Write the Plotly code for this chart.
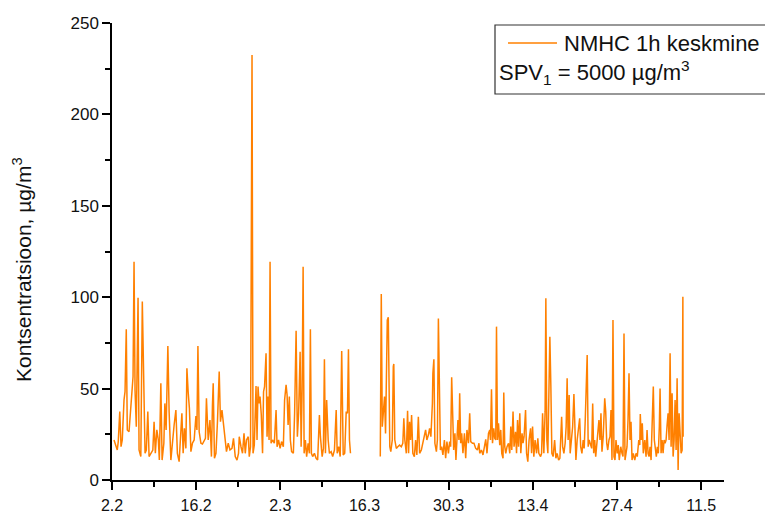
import pandas as pd
import plotly.graph_objects as go

# ---- data ----
start_date = "2010-02-02 00:00"
# hours since 2.2 00:00, NMHC 1h average concentration (µg/m3); None = data gap
hours = [
    8, 15, 21, 25, 31, 36, 41, 48, 52, 57, 61, 68, 84, 88, 92, 97, 104, 108, 115, 121,
    127, 132, 137, 143, 148, 156, 163, 168, 173, 179, 185, 189, 195, 200, 207, 211, 216, 223, 228, 235,
    241, 248, 255, 261, 268, 275, 279, 284, 289, 295, 299, 304, 309, 315, 321, 328, 335, 339, 343, 348,
    355, 361, 368, 373, 377, 384, 391, 397, 401, 404, 409, 415, 421, 428, 433, 439, 444, 451, 457, 464,
    471, 479, 485, 492, 499, 505, 508, 515, 521, 527, 532, 537, 544, 548, 553, 559, 563, 568, 575, 579,
    583, 587, 591, 596, 601, 605, 609, 615, 619, 623, 627, 631, 635, 641, 648, 655, 659, 665, 671, 677,
    684, 689, 695, 699, 703, 708, 712, 717, 724, 729, 735, 740, 745, 751, 755, 759, 763, 767, 772, 777,
    783, 788, 792, 796, 801, 808, 815, 821, 828, 832, 839, 844, 848, 852, 857, 863, 868, 875, 881, 888,
    895, 899, 905, 911, 917, 923, 929, 935, 940, 944, 948, 952,
    1010,
    1071, 1075, 1079, 1084, 1088, 1092, 1096, 1099, 1103, 1107, 1109, 1113, 1119, 1123, 1125, 1129, 1135, 1141, 1148, 1155,
    1161, 1165, 1169, 1175, 1180, 1184, 1188, 1192, 1196, 1201, 1207, 1212, 1217, 1223, 1228, 1235, 1241, 1248, 1252, 1257,
    1263, 1268, 1273, 1279, 1281, 1285, 1289, 1295, 1299, 1303, 1307, 1311, 1316, 1321, 1327, 1332, 1337, 1343, 1348, 1352,
    1356, 1360, 1364, 1369, 1373, 1377, 1381, 1385, 1388, 1392, 1396, 1401, 1407, 1412, 1417, 1423, 1428, 1432, 1439, 1445,
    1452, 1459, 1465, 1468, 1475, 1481, 1487, 1492, 1497, 1503, 1508, 1511, 1515, 1519, 1524, 1528, 1532, 1535, 1539, 1543,
    1548, 1552, 1556, 1561, 1564, 1568, 1572, 1577, 1583, 1588, 1592, 1596, 1601, 1605, 1611, 1615, 1619, 1623, 1628, 1632,
    1637, 1641, 1645, 1651, 1655, 1660, 1665, 1671, 1675, 1679, 1684, 1689, 1695, 1700, 1704, 1711, 1715, 1719, 1724, 1729,
    1732, 1736, 1740, 1744, 1748, 1752, 1756, 1761, 1767, 1772, 1777, 1783, 1788, 1795, 1799, 1804, 1809, 1813, 1817, 1821,
    1825, 1829, 1835, 1839, 1844, 1848, 1852, 1857, 1863, 1867, 1871, 1876, 1881, 1885, 1889, 1893, 1897, 1901, 1905, 1915,
    1919, 1923, 1927, 1931, 1935, 1940, 1944, 1948, 1952, 1956, 1961, 1967, 1971, 1975, 1979, 1984, 1988, 1992, 1996, 2000,
    2004, 2008, 2012, 2017, 2021, 2025, 2031, 2036, 2040, 2044, 2048, 2052, 2056, 2060, 2064, 2068, 2072, 2076, 2081, 2087,
    2092, 2097, 2103, 2107, 2109, 2113, 2117, 2121, 2127, 2132, 2136, 2140, 2144, 2148, 2152, 2156, 2161, 2165, 2169, 2173,
    2177, 2181, 2185, 2188, 2192, 2196, 2200, 2204, 2208, 2212, 2216, 2220, 2224, 2228, 2232, 2236, 2240, 2244, 2248, 2252,
    2256, 2260, 2264, 2268, 2272, 2276, 2279, 2280,
]
conc = [
    21.9, 18.2, 16.4, 21.0, 37.4, 18.2, 21.9, 43.8, 48.3, 82.4, 27.4, 26.4, 56.5, 119.4, 49.0, 29.2, 99.7, 16.4, 12.8, 97.6,
    47.4, 14.6, 16.4, 37.4, 12.8, 14.6, 16.4, 31.9, 14.6, 27.4, 21.9, 10.9, 52.9, 10.9, 20.1, 41.9, 27.4, 73.3, 37.4, 10.9,
    21.9, 30.1, 38.3, 14.6, 10.0, 26.4, 36.5, 14.6, 28.3, 17.3, 61.1, 48.3, 39.2, 15.5, 20.1, 21.9, 35.0, 27.4, 73.3, 26.4,
    20.1, 19.7, 21.9, 22.8, 44.7, 21.9, 32.8, 12.8, 41.0, 52.9, 11.9, 14.6, 31.9, 59.3, 31.9, 38.3, 31.9, 21.0, 15.5, 20.1,
    16.4, 17.3, 22.8, 12.8, 10.9, 14.6, 23.7, 18.2, 14.6, 25.5, 14.6, 21.9, 23.7, 12.8, 18.2, 232.5, 14.6, 19.1, 51.4, 21.9,
    51.1, 41.9, 45.6, 35.6, 14.6, 48.3, 51.1, 69.3, 23.7, 45.6, 21.9, 119.4, 20.1, 21.9, 20.1, 38.3, 18.2, 21.9, 17.3, 21.0,
    18.2, 43.8, 52.0, 46.5, 30.1, 45.6, 21.9, 15.5, 14.6, 36.5, 81.7, 23.7, 36.5, 70.2, 18.2, 49.2, 116.7, 14.6, 21.9, 12.8,
    20.1, 14.6, 82.4, 14.6, 12.8, 14.6, 11.9, 10.9, 35.6, 23.7, 12.8, 17.3, 66.0, 14.6, 43.8, 21.9, 14.6, 15.5, 12.8, 16.4,
    38.3, 14.6, 18.2, 12.8, 70.6, 13.7, 14.6, 37.4, 36.5, 71.5, 21.9, 14.6,
    None,
    12.8, 101.8, 29.2, 36.5, 45.6, 25.5, 72.9, 87.5, 89.0, 49.2, 18.2, 15.5, 21.9, 62.0, 63.5, 21.9, 17.3, 18.2, 19.1, 18.2,
    20.1, 33.7, 21.9, 14.6, 37.9, 14.6, 31.9, 21.9, 35.6, 14.6, 12.8, 21.9, 13.7, 34.6, 14.6, 16.4, 20.1, 23.7, 27.4, 21.9,
    24.6, 28.3, 23.7, 41.9, 58.4, 66.0, 20.1, 15.5, 21.9, 88.4, 36.5, 16.4, 18.2, 13.7, 21.9, 11.9, 21.0, 14.6, 21.0, 18.2,
    56.2, 25.5, 16.4, 25.5, 10.9, 21.9, 32.8, 21.9, 47.4, 20.1, 25.5, 14.6, 25.5, 11.9, 27.4, 20.1, 36.5, 21.0, 20.1, 20.1,
    17.3, 16.4, 20.1, 14.6, 16.4, 13.7, 18.2, 22.2, 14.6, 25.5, 27.4, 21.9, 49.6, 20.1, 28.3, 22.8, 21.9, 83.9, 21.9, 31.0,
    19.1, 27.4, 14.6, 11.9, 47.8, 18.2, 14.6, 18.2, 20.1, 14.6, 29.2, 16.4, 37.4, 18.2, 26.4, 14.6, 32.8, 18.2, 36.5, 14.6,
    25.5, 20.1, 23.7, 38.3, 14.6, 10.0, 21.9, 28.3, 14.6, 29.2, 12.8, 21.9, 14.6, 22.8, 14.6, 12.8, 14.6, 36.5, 14.6, 37.4,
    99.4, 21.9, 14.6, 64.7, 78.4, 51.1, 14.6, 12.8, 21.9, 11.9, 14.6, 10.9, 11.9, 34.6, 18.2, 14.6, 20.1, 29.2, 55.6, 21.9,
    46.5, 14.6, 23.7, 29.2, 47.0, 27.4, 10.9, 21.9, 29.2, 33.7, 18.2, 14.6, 21.9, 17.3, 31.9, 47.4, 68.4, 18.2, 21.9, 17.3,
    41.9, 14.6, 21.9, 12.8, 18.2, 25.5, 32.8, 21.9, 36.5, 15.5, 23.7, 44.7, 37.4, 20.1, 16.4, 21.9, 23.7, 38.3, 10.9, 87.5,
    12.8, 10.9, 21.9, 14.6, 19.1, 10.9, 18.2, 14.6, 12.8, 80.2, 10.9, 14.6, 18.2, 32.8, 58.4, 21.9, 31.9, 10.9, 14.6, 10.9,
    14.6, 12.8, 21.9, 19.1, 36.1, 21.9, 31.0, 14.6, 21.9, 12.8, 27.4, 14.6, 12.8, 18.2, 10.9, 29.2, 51.1, 21.9, 14.6, 12.8,
    18.2, 14.6, 29.2, 50.1, 14.6, 21.9, 14.6, 21.9, 20.1, 21.9, 30.1, 36.5, 21.9, 69.3, 18.2, 47.4, 12.8, 21.9, 43.8, 16.4,
    55.6, 5.5, 36.5, 21.9, 14.6, 16.4, 100.3, 23.7,
]
tick_dates = ["2010-02-02", "2010-02-16", "2010-03-02", "2010-03-16",
              "2010-03-30", "2010-04-13", "2010-04-27", "2010-05-11"]
tick_labels = ["2.2", "16.2", "2.3", "16.3", "30.3", "13.4", "27.4", "11.5"]
y_ticks = [0, 50, 100, 150, 200, 250]
series_name = "NMHC 1h keskmine"
limit_text = "SPV<sub>1</sub> = 5000 \u00b5g/m<sup>3</sup>"
y_title = "Kontsentratsioon, \u00b5g/m<sup>3</sup>"

# ---- figure ----
t0 = pd.Timestamp(start_date)
x = [t0 + pd.Timedelta(hours=h) for h in hours]

ORANGE = "#FF8000"
FONT = "Arial, 'Liberation Sans', sans-serif"

fig = go.Figure()
fig.add_trace(go.Scatter(
    x=x, y=conc, mode="lines", name=series_name,
    line=dict(color=ORANGE, width=1.5), connectgaps=False, showlegend=False,
))

L, R, T, B = 112, 41, 23, 33
W, H = 765, 513
pw, ph = W - L - R, H - T - B

def px(xp):
    return (xp - L) / pw

def py(yp):
    return (H - B - yp) / ph

x_end = t0 + pd.Timedelta(days=101.8)

fig.update_layout(
    width=W, height=H,
    margin=dict(l=L, r=R, t=T, b=B),
    paper_bgcolor="white", plot_bgcolor="white",
    font=dict(family=FONT, size=17, color="#111111"),
    xaxis=dict(
        type="date", range=[t0, x_end], automargin=False,
        tickmode="array", tickvals=tick_dates, ticktext=tick_labels,
        showgrid=False, zeroline=False,
        showline=True, linecolor="black", linewidth=1.5,
        ticks="outside", ticklen=8, tickwidth=1.5, tickcolor="black",
        tickfont=dict(size=16), ticklabelstandoff=2,
        minor=dict(ticks="outside", ticklen=5, tickwidth=1.5, tickcolor="black",
                   dtick=7 * 86400000, tick0=start_date, showgrid=False),
    ),
    yaxis=dict(
        range=[0, 250], tickmode="array", tickvals=y_ticks, automargin=False,
        showgrid=False, zeroline=False,
        showline=True, linecolor="black", linewidth=1.5,
        ticks="outside", ticklen=8, tickwidth=1.5, tickcolor="black",
        tickfont=dict(size=17),
        minor=dict(ticks="outside", ticklen=5, tickwidth=1.5, tickcolor="black",
                   dtick=25, tick0=0, showgrid=False),
    ),
    showlegend=False,
)

# y-axis title
fig.add_annotation(
    text=y_title, textangle=-90, xref="paper", yref="paper",
    x=px(22), y=py(270), showarrow=False, font=dict(size=21),
    xanchor="center", yanchor="middle",
)

# legend box (drawn as in the original, extending past the right edge)
fig.add_shape(type="rect", xref="paper", yref="paper",
              x0=px(495), x1=px(800), y0=py(94), y1=py(25),
              line=dict(color="#333333", width=1.2), fillcolor="white", layer="above")
fig.add_shape(type="line", xref="paper", yref="paper",
              x0=px(508), x1=px(557), y0=py(43), y1=py(43),
              line=dict(color=ORANGE, width=1.3), layer="above")
fig.add_annotation(text=series_name, xref="paper", yref="paper",
                   x=px(562), y=py(43), xanchor="left", yanchor="middle",
                   showarrow=False, font=dict(size=22))
fig.add_annotation(text=limit_text, xref="paper", yref="paper",
                   x=px(497), y=py(72), xanchor="left", yanchor="middle",
                   showarrow=False, font=dict(size=22))

fig.write_html("out.html")
